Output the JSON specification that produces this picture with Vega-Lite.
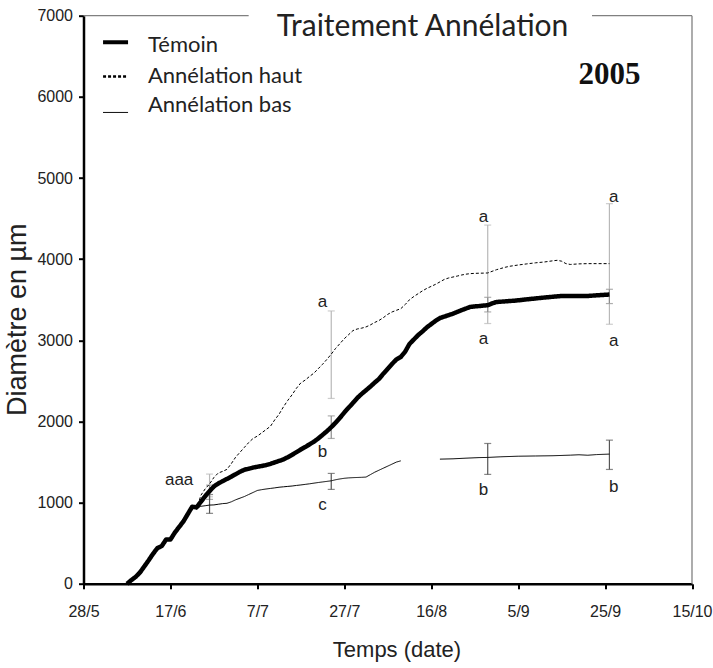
{
  "$schema": "https://vega.github.io/schema/vega-lite/v6.json",
  "width": 608.5,
  "height": 568.1,
  "autosize": {"type": "none"},
  "padding": {"left": 83.5, "top": 15.7, "right": 21, "bottom": 84},
  "background": "white",
  "config": {"view": {"stroke": null}},
  "datasets": {
    "lines": [
      {"serie": "Témoin", "seg": 1, "date": "2005-06-07", "val": 0},
      {"serie": "Témoin", "seg": 1, "date": "2005-06-08", "val": 45},
      {"serie": "Témoin", "seg": 1, "date": "2005-06-09", "val": 85},
      {"serie": "Témoin", "seg": 1, "date": "2005-06-10", "val": 140},
      {"serie": "Témoin", "seg": 1, "date": "2005-06-11", "val": 215},
      {"serie": "Témoin", "seg": 1, "date": "2005-06-12", "val": 290},
      {"serie": "Témoin", "seg": 1, "date": "2005-06-13", "val": 370},
      {"serie": "Témoin", "seg": 1, "date": "2005-06-14", "val": 440},
      {"serie": "Témoin", "seg": 1, "date": "2005-06-15", "val": 465},
      {"serie": "Témoin", "seg": 1, "date": "2005-06-16", "val": 545},
      {"serie": "Témoin", "seg": 1, "date": "2005-06-17", "val": 545},
      {"serie": "Témoin", "seg": 1, "date": "2005-06-18", "val": 630},
      {"serie": "Témoin", "seg": 1, "date": "2005-06-19", "val": 700},
      {"serie": "Témoin", "seg": 1, "date": "2005-06-20", "val": 770},
      {"serie": "Témoin", "seg": 1, "date": "2005-06-21", "val": 860},
      {"serie": "Témoin", "seg": 1, "date": "2005-06-22", "val": 950},
      {"serie": "Témoin", "seg": 1, "date": "2005-06-23", "val": 942},
      {"serie": "Témoin", "seg": 1, "date": "2005-06-24", "val": 1010},
      {"serie": "Témoin", "seg": 1, "date": "2005-06-25", "val": 1080},
      {"serie": "Témoin", "seg": 1, "date": "2005-06-26", "val": 1140},
      {"serie": "Témoin", "seg": 1, "date": "2005-06-27", "val": 1200},
      {"serie": "Témoin", "seg": 1, "date": "2005-06-28", "val": 1235},
      {"serie": "Témoin", "seg": 1, "date": "2005-06-29", "val": 1265},
      {"serie": "Témoin", "seg": 1, "date": "2005-06-30", "val": 1292},
      {"serie": "Témoin", "seg": 1, "date": "2005-07-01", "val": 1320},
      {"serie": "Témoin", "seg": 1, "date": "2005-07-02", "val": 1350},
      {"serie": "Témoin", "seg": 1, "date": "2005-07-03", "val": 1380},
      {"serie": "Témoin", "seg": 1, "date": "2005-07-04", "val": 1405},
      {"serie": "Témoin", "seg": 1, "date": "2005-07-05", "val": 1418},
      {"serie": "Témoin", "seg": 1, "date": "2005-07-06", "val": 1432},
      {"serie": "Témoin", "seg": 1, "date": "2005-07-07", "val": 1442},
      {"serie": "Témoin", "seg": 1, "date": "2005-07-08", "val": 1452},
      {"serie": "Témoin", "seg": 1, "date": "2005-07-09", "val": 1462},
      {"serie": "Témoin", "seg": 1, "date": "2005-07-10", "val": 1478},
      {"serie": "Témoin", "seg": 1, "date": "2005-07-11", "val": 1496},
      {"serie": "Témoin", "seg": 1, "date": "2005-07-12", "val": 1514},
      {"serie": "Témoin", "seg": 1, "date": "2005-07-13", "val": 1532},
      {"serie": "Témoin", "seg": 1, "date": "2005-07-14", "val": 1560},
      {"serie": "Témoin", "seg": 1, "date": "2005-07-15", "val": 1590},
      {"serie": "Témoin", "seg": 1, "date": "2005-07-16", "val": 1622},
      {"serie": "Témoin", "seg": 1, "date": "2005-07-17", "val": 1655},
      {"serie": "Témoin", "seg": 1, "date": "2005-07-18", "val": 1685},
      {"serie": "Témoin", "seg": 1, "date": "2005-07-19", "val": 1718},
      {"serie": "Témoin", "seg": 1, "date": "2005-07-20", "val": 1750},
      {"serie": "Témoin", "seg": 1, "date": "2005-07-21", "val": 1790},
      {"serie": "Témoin", "seg": 1, "date": "2005-07-22", "val": 1835},
      {"serie": "Témoin", "seg": 1, "date": "2005-07-23", "val": 1880},
      {"serie": "Témoin", "seg": 1, "date": "2005-07-24", "val": 1930},
      {"serie": "Témoin", "seg": 1, "date": "2005-07-25", "val": 1985},
      {"serie": "Témoin", "seg": 1, "date": "2005-07-26", "val": 2045},
      {"serie": "Témoin", "seg": 1, "date": "2005-07-27", "val": 2110},
      {"serie": "Témoin", "seg": 1, "date": "2005-07-28", "val": 2170},
      {"serie": "Témoin", "seg": 1, "date": "2005-07-29", "val": 2230},
      {"serie": "Témoin", "seg": 1, "date": "2005-07-30", "val": 2290},
      {"serie": "Témoin", "seg": 1, "date": "2005-07-31", "val": 2340},
      {"serie": "Témoin", "seg": 1, "date": "2005-08-01", "val": 2385},
      {"serie": "Témoin", "seg": 1, "date": "2005-08-02", "val": 2430},
      {"serie": "Témoin", "seg": 1, "date": "2005-08-03", "val": 2480},
      {"serie": "Témoin", "seg": 1, "date": "2005-08-04", "val": 2525},
      {"serie": "Témoin", "seg": 1, "date": "2005-08-05", "val": 2590},
      {"serie": "Témoin", "seg": 1, "date": "2005-08-06", "val": 2650},
      {"serie": "Témoin", "seg": 1, "date": "2005-08-07", "val": 2710},
      {"serie": "Témoin", "seg": 1, "date": "2005-08-08", "val": 2765},
      {"serie": "Témoin", "seg": 1, "date": "2005-08-09", "val": 2795},
      {"serie": "Témoin", "seg": 1, "date": "2005-08-10", "val": 2860},
      {"serie": "Témoin", "seg": 1, "date": "2005-08-11", "val": 2955},
      {"serie": "Témoin", "seg": 1, "date": "2005-08-12", "val": 3010},
      {"serie": "Témoin", "seg": 1, "date": "2005-08-13", "val": 3065},
      {"serie": "Témoin", "seg": 1, "date": "2005-08-14", "val": 3110},
      {"serie": "Témoin", "seg": 1, "date": "2005-08-15", "val": 3160},
      {"serie": "Témoin", "seg": 1, "date": "2005-08-16", "val": 3200},
      {"serie": "Témoin", "seg": 1, "date": "2005-08-17", "val": 3240},
      {"serie": "Témoin", "seg": 1, "date": "2005-08-18", "val": 3275},
      {"serie": "Témoin", "seg": 1, "date": "2005-08-19", "val": 3292},
      {"serie": "Témoin", "seg": 1, "date": "2005-08-20", "val": 3310},
      {"serie": "Témoin", "seg": 1, "date": "2005-08-21", "val": 3328},
      {"serie": "Témoin", "seg": 1, "date": "2005-08-22", "val": 3350},
      {"serie": "Témoin", "seg": 1, "date": "2005-08-23", "val": 3372},
      {"serie": "Témoin", "seg": 1, "date": "2005-08-24", "val": 3392},
      {"serie": "Témoin", "seg": 1, "date": "2005-08-25", "val": 3412},
      {"serie": "Témoin", "seg": 1, "date": "2005-08-26", "val": 3418},
      {"serie": "Témoin", "seg": 1, "date": "2005-08-27", "val": 3422},
      {"serie": "Témoin", "seg": 1, "date": "2005-08-28", "val": 3428},
      {"serie": "Témoin", "seg": 1, "date": "2005-08-29", "val": 3432},
      {"serie": "Témoin", "seg": 1, "date": "2005-08-30", "val": 3455},
      {"serie": "Témoin", "seg": 1, "date": "2005-08-31", "val": 3472},
      {"serie": "Témoin", "seg": 1, "date": "2005-09-01", "val": 3476},
      {"serie": "Témoin", "seg": 1, "date": "2005-09-02", "val": 3480},
      {"serie": "Témoin", "seg": 1, "date": "2005-09-03", "val": 3484},
      {"serie": "Témoin", "seg": 1, "date": "2005-09-04", "val": 3488},
      {"serie": "Témoin", "seg": 1, "date": "2005-09-05", "val": 3493},
      {"serie": "Témoin", "seg": 1, "date": "2005-09-07", "val": 3505},
      {"serie": "Témoin", "seg": 1, "date": "2005-09-09", "val": 3516},
      {"serie": "Témoin", "seg": 1, "date": "2005-09-11", "val": 3527},
      {"serie": "Témoin", "seg": 1, "date": "2005-09-13", "val": 3537},
      {"serie": "Témoin", "seg": 1, "date": "2005-09-15", "val": 3546},
      {"serie": "Témoin", "seg": 1, "date": "2005-09-18", "val": 3546},
      {"serie": "Témoin", "seg": 1, "date": "2005-09-21", "val": 3547},
      {"serie": "Témoin", "seg": 1, "date": "2005-09-23", "val": 3554},
      {"serie": "Témoin", "seg": 1, "date": "2005-09-26", "val": 3564},

      {"serie": "Annélation haut", "seg": 1, "date": "2005-06-22", "val": 949},
      {"serie": "Annélation haut", "seg": 1, "date": "2005-06-23", "val": 915},
      {"serie": "Annélation haut", "seg": 1, "date": "2005-06-24", "val": 1090},
      {"serie": "Annélation haut", "seg": 1, "date": "2005-06-25", "val": 1170},
      {"serie": "Annélation haut", "seg": 1, "date": "2005-06-26", "val": 1230},
      {"serie": "Annélation haut", "seg": 1, "date": "2005-06-27", "val": 1310},
      {"serie": "Annélation haut", "seg": 1, "date": "2005-06-28", "val": 1365},
      {"serie": "Annélation haut", "seg": 1, "date": "2005-06-29", "val": 1385},
      {"serie": "Annélation haut", "seg": 1, "date": "2005-06-30", "val": 1410},
      {"serie": "Annélation haut", "seg": 1, "date": "2005-07-01", "val": 1480},
      {"serie": "Annélation haut", "seg": 1, "date": "2005-07-02", "val": 1560},
      {"serie": "Annélation haut", "seg": 1, "date": "2005-07-03", "val": 1620},
      {"serie": "Annélation haut", "seg": 1, "date": "2005-07-04", "val": 1680},
      {"serie": "Annélation haut", "seg": 1, "date": "2005-07-05", "val": 1740},
      {"serie": "Annélation haut", "seg": 1, "date": "2005-07-06", "val": 1790},
      {"serie": "Annélation haut", "seg": 1, "date": "2005-07-07", "val": 1820},
      {"serie": "Annélation haut", "seg": 1, "date": "2005-07-08", "val": 1860},
      {"serie": "Annélation haut", "seg": 1, "date": "2005-07-09", "val": 1900},
      {"serie": "Annélation haut", "seg": 1, "date": "2005-07-10", "val": 1940},
      {"serie": "Annélation haut", "seg": 1, "date": "2005-07-11", "val": 2020},
      {"serie": "Annélation haut", "seg": 1, "date": "2005-07-12", "val": 2090},
      {"serie": "Annélation haut", "seg": 1, "date": "2005-07-13", "val": 2180},
      {"serie": "Annélation haut", "seg": 1, "date": "2005-07-14", "val": 2260},
      {"serie": "Annélation haut", "seg": 1, "date": "2005-07-15", "val": 2330},
      {"serie": "Annélation haut", "seg": 1, "date": "2005-07-16", "val": 2410},
      {"serie": "Annélation haut", "seg": 1, "date": "2005-07-17", "val": 2475},
      {"serie": "Annélation haut", "seg": 1, "date": "2005-07-18", "val": 2510},
      {"serie": "Annélation haut", "seg": 1, "date": "2005-07-19", "val": 2555},
      {"serie": "Annélation haut", "seg": 1, "date": "2005-07-20", "val": 2595},
      {"serie": "Annélation haut", "seg": 1, "date": "2005-07-21", "val": 2650},
      {"serie": "Annélation haut", "seg": 1, "date": "2005-07-22", "val": 2705},
      {"serie": "Annélation haut", "seg": 1, "date": "2005-07-23", "val": 2765},
      {"serie": "Annélation haut", "seg": 1, "date": "2005-07-24", "val": 2830},
      {"serie": "Annélation haut", "seg": 1, "date": "2005-07-25", "val": 2900},
      {"serie": "Annélation haut", "seg": 1, "date": "2005-07-26", "val": 2960},
      {"serie": "Annélation haut", "seg": 1, "date": "2005-07-27", "val": 3020},
      {"serie": "Annélation haut", "seg": 1, "date": "2005-07-28", "val": 3070},
      {"serie": "Annélation haut", "seg": 1, "date": "2005-07-29", "val": 3120},
      {"serie": "Annélation haut", "seg": 1, "date": "2005-07-30", "val": 3140},
      {"serie": "Annélation haut", "seg": 1, "date": "2005-07-31", "val": 3150},
      {"serie": "Annélation haut", "seg": 1, "date": "2005-08-01", "val": 3165},
      {"serie": "Annélation haut", "seg": 1, "date": "2005-08-02", "val": 3190},
      {"serie": "Annélation haut", "seg": 1, "date": "2005-08-03", "val": 3220},
      {"serie": "Annélation haut", "seg": 1, "date": "2005-08-04", "val": 3245},
      {"serie": "Annélation haut", "seg": 1, "date": "2005-08-05", "val": 3280},
      {"serie": "Annélation haut", "seg": 1, "date": "2005-08-06", "val": 3320},
      {"serie": "Annélation haut", "seg": 1, "date": "2005-08-07", "val": 3350},
      {"serie": "Annélation haut", "seg": 1, "date": "2005-08-08", "val": 3370},
      {"serie": "Annélation haut", "seg": 1, "date": "2005-08-09", "val": 3390},
      {"serie": "Annélation haut", "seg": 1, "date": "2005-08-10", "val": 3440},
      {"serie": "Annélation haut", "seg": 1, "date": "2005-08-11", "val": 3500},
      {"serie": "Annélation haut", "seg": 1, "date": "2005-08-12", "val": 3540},
      {"serie": "Annélation haut", "seg": 1, "date": "2005-08-13", "val": 3575},
      {"serie": "Annélation haut", "seg": 1, "date": "2005-08-14", "val": 3610},
      {"serie": "Annélation haut", "seg": 1, "date": "2005-08-15", "val": 3640},
      {"serie": "Annélation haut", "seg": 1, "date": "2005-08-16", "val": 3665},
      {"serie": "Annélation haut", "seg": 1, "date": "2005-08-17", "val": 3690},
      {"serie": "Annélation haut", "seg": 1, "date": "2005-08-18", "val": 3720},
      {"serie": "Annélation haut", "seg": 1, "date": "2005-08-19", "val": 3750},
      {"serie": "Annélation haut", "seg": 1, "date": "2005-08-20", "val": 3768},
      {"serie": "Annélation haut", "seg": 1, "date": "2005-08-21", "val": 3780},
      {"serie": "Annélation haut", "seg": 1, "date": "2005-08-22", "val": 3792},
      {"serie": "Annélation haut", "seg": 1, "date": "2005-08-23", "val": 3805},
      {"serie": "Annélation haut", "seg": 1, "date": "2005-08-24", "val": 3815},
      {"serie": "Annélation haut", "seg": 1, "date": "2005-08-25", "val": 3822},
      {"serie": "Annélation haut", "seg": 1, "date": "2005-08-26", "val": 3825},
      {"serie": "Annélation haut", "seg": 1, "date": "2005-08-27", "val": 3827},
      {"serie": "Annélation haut", "seg": 1, "date": "2005-08-28", "val": 3828},
      {"serie": "Annélation haut", "seg": 1, "date": "2005-08-29", "val": 3830},
      {"serie": "Annélation haut", "seg": 1, "date": "2005-08-30", "val": 3850},
      {"serie": "Annélation haut", "seg": 1, "date": "2005-08-31", "val": 3870},
      {"serie": "Annélation haut", "seg": 1, "date": "2005-09-01", "val": 3885},
      {"serie": "Annélation haut", "seg": 1, "date": "2005-09-02", "val": 3900},
      {"serie": "Annélation haut", "seg": 1, "date": "2005-09-03", "val": 3912},
      {"serie": "Annélation haut", "seg": 1, "date": "2005-09-05", "val": 3928},
      {"serie": "Annélation haut", "seg": 1, "date": "2005-09-07", "val": 3942},
      {"serie": "Annélation haut", "seg": 1, "date": "2005-09-09", "val": 3955},
      {"serie": "Annélation haut", "seg": 1, "date": "2005-09-11", "val": 3965},
      {"serie": "Annélation haut", "seg": 1, "date": "2005-09-13", "val": 3980},
      {"serie": "Annélation haut", "seg": 1, "date": "2005-09-14", "val": 3986},
      {"serie": "Annélation haut", "seg": 1, "date": "2005-09-15", "val": 3975},
      {"serie": "Annélation haut", "seg": 1, "date": "2005-09-16", "val": 3945},
      {"serie": "Annélation haut", "seg": 1, "date": "2005-09-17", "val": 3935},
      {"serie": "Annélation haut", "seg": 1, "date": "2005-09-19", "val": 3942},
      {"serie": "Annélation haut", "seg": 1, "date": "2005-09-21", "val": 3945},
      {"serie": "Annélation haut", "seg": 1, "date": "2005-09-23", "val": 3945},
      {"serie": "Annélation haut", "seg": 1, "date": "2005-09-26", "val": 3945},

      {"serie": "Annélation bas", "seg": 1, "date": "2005-06-22", "val": 949},
      {"serie": "Annélation bas", "seg": 1, "date": "2005-06-23", "val": 925},
      {"serie": "Annélation bas", "seg": 1, "date": "2005-06-24", "val": 955},
      {"serie": "Annélation bas", "seg": 1, "date": "2005-06-25", "val": 962},
      {"serie": "Annélation bas", "seg": 1, "date": "2005-06-26", "val": 970},
      {"serie": "Annélation bas", "seg": 1, "date": "2005-06-27", "val": 972},
      {"serie": "Annélation bas", "seg": 1, "date": "2005-06-28", "val": 980},
      {"serie": "Annélation bas", "seg": 1, "date": "2005-06-29", "val": 988},
      {"serie": "Annélation bas", "seg": 1, "date": "2005-06-30", "val": 992},
      {"serie": "Annélation bas", "seg": 1, "date": "2005-07-01", "val": 1010},
      {"serie": "Annélation bas", "seg": 1, "date": "2005-07-02", "val": 1035},
      {"serie": "Annélation bas", "seg": 1, "date": "2005-07-03", "val": 1055},
      {"serie": "Annélation bas", "seg": 1, "date": "2005-07-04", "val": 1075},
      {"serie": "Annélation bas", "seg": 1, "date": "2005-07-05", "val": 1100},
      {"serie": "Annélation bas", "seg": 1, "date": "2005-07-06", "val": 1125},
      {"serie": "Annélation bas", "seg": 1, "date": "2005-07-07", "val": 1150},
      {"serie": "Annélation bas", "seg": 1, "date": "2005-07-08", "val": 1160},
      {"serie": "Annélation bas", "seg": 1, "date": "2005-07-09", "val": 1168},
      {"serie": "Annélation bas", "seg": 1, "date": "2005-07-10", "val": 1175},
      {"serie": "Annélation bas", "seg": 1, "date": "2005-07-11", "val": 1182},
      {"serie": "Annélation bas", "seg": 1, "date": "2005-07-12", "val": 1190},
      {"serie": "Annélation bas", "seg": 1, "date": "2005-07-13", "val": 1195},
      {"serie": "Annélation bas", "seg": 1, "date": "2005-07-14", "val": 1200},
      {"serie": "Annélation bas", "seg": 1, "date": "2005-07-15", "val": 1205},
      {"serie": "Annélation bas", "seg": 1, "date": "2005-07-16", "val": 1212},
      {"serie": "Annélation bas", "seg": 1, "date": "2005-07-17", "val": 1218},
      {"serie": "Annélation bas", "seg": 1, "date": "2005-07-18", "val": 1225},
      {"serie": "Annélation bas", "seg": 1, "date": "2005-07-19", "val": 1232},
      {"serie": "Annélation bas", "seg": 1, "date": "2005-07-20", "val": 1240},
      {"serie": "Annélation bas", "seg": 1, "date": "2005-07-21", "val": 1248},
      {"serie": "Annélation bas", "seg": 1, "date": "2005-07-22", "val": 1255},
      {"serie": "Annélation bas", "seg": 1, "date": "2005-07-23", "val": 1262},
      {"serie": "Annélation bas", "seg": 1, "date": "2005-07-24", "val": 1269},
      {"serie": "Annélation bas", "seg": 1, "date": "2005-07-25", "val": 1282},
      {"serie": "Annélation bas", "seg": 1, "date": "2005-07-26", "val": 1292},
      {"serie": "Annélation bas", "seg": 1, "date": "2005-07-27", "val": 1300},
      {"serie": "Annélation bas", "seg": 1, "date": "2005-07-28", "val": 1305},
      {"serie": "Annélation bas", "seg": 1, "date": "2005-07-29", "val": 1308},
      {"serie": "Annélation bas", "seg": 1, "date": "2005-07-30", "val": 1310},
      {"serie": "Annélation bas", "seg": 1, "date": "2005-07-31", "val": 1312},
      {"serie": "Annélation bas", "seg": 1, "date": "2005-08-01", "val": 1315},
      {"serie": "Annélation bas", "seg": 1, "date": "2005-08-02", "val": 1345},
      {"serie": "Annélation bas", "seg": 1, "date": "2005-08-03", "val": 1375},
      {"serie": "Annélation bas", "seg": 1, "date": "2005-08-04", "val": 1400},
      {"serie": "Annélation bas", "seg": 1, "date": "2005-08-05", "val": 1425},
      {"serie": "Annélation bas", "seg": 1, "date": "2005-08-06", "val": 1450},
      {"serie": "Annélation bas", "seg": 1, "date": "2005-08-07", "val": 1475},
      {"serie": "Annélation bas", "seg": 1, "date": "2005-08-08", "val": 1500},
      {"serie": "Annélation bas", "seg": 1, "date": "2005-08-09", "val": 1515},
      {"serie": "Annélation bas", "seg": 2, "date": "2005-08-18", "val": 1536},
      {"serie": "Annélation bas", "seg": 2, "date": "2005-08-21", "val": 1540},
      {"serie": "Annélation bas", "seg": 2, "date": "2005-08-24", "val": 1548},
      {"serie": "Annélation bas", "seg": 2, "date": "2005-08-27", "val": 1555},
      {"serie": "Annélation bas", "seg": 2, "date": "2005-08-29", "val": 1557},
      {"serie": "Annélation bas", "seg": 2, "date": "2005-09-01", "val": 1565},
      {"serie": "Annélation bas", "seg": 2, "date": "2005-09-05", "val": 1572},
      {"serie": "Annélation bas", "seg": 2, "date": "2005-09-09", "val": 1575},
      {"serie": "Annélation bas", "seg": 2, "date": "2005-09-13", "val": 1578},
      {"serie": "Annélation bas", "seg": 2, "date": "2005-09-17", "val": 1585},
      {"serie": "Annélation bas", "seg": 2, "date": "2005-09-19", "val": 1590},
      {"serie": "Annélation bas", "seg": 2, "date": "2005-09-21", "val": 1584},
      {"serie": "Annélation bas", "seg": 2, "date": "2005-09-23", "val": 1592},
      {"serie": "Annélation bas", "seg": 2, "date": "2005-09-26", "val": 1598}
    ],
    "errors": [
      {"serie": "Annélation haut", "date": "2005-06-26", "val": 1072, "val2": 1352},
      {"serie": "Témoin", "date": "2005-06-26", "val": 1040, "val2": 1216},
      {"serie": "Annélation bas", "date": "2005-06-26", "val": 868, "val2": 1100},
      {"serie": "Annélation haut", "date": "2005-07-24", "val": 2284, "val2": 3362},
      {"serie": "Témoin", "date": "2005-07-24", "val": 1791, "val2": 2069},
      {"serie": "Annélation bas", "date": "2005-07-24", "val": 1163, "val2": 1360},
      {"serie": "Annélation haut", "date": "2005-08-29", "val": 3207, "val2": 4420},
      {"serie": "Témoin", "date": "2005-08-29", "val": 3350, "val2": 3530},
      {"serie": "Annélation bas", "date": "2005-08-29", "val": 1348, "val2": 1729},
      {"serie": "Annélation haut", "date": "2005-09-26", "val": 3198, "val2": 4684},
      {"serie": "Témoin", "date": "2005-09-26", "val": 3453, "val2": 3629},
      {"serie": "Annélation bas", "date": "2005-09-26", "val": 1409, "val2": 1770}
    ],
    "letters": [
      {"date": "2005-06-19", "val": 1280, "txt": "aaa"},
      {"date": "2005-07-22", "val": 3473, "txt": "a"},
      {"date": "2005-07-22", "val": 1622, "txt": "b"},
      {"date": "2005-07-22", "val": 970, "txt": "c"},
      {"date": "2005-08-28", "val": 4519, "txt": "a"},
      {"date": "2005-08-28", "val": 3022, "txt": "a"},
      {"date": "2005-08-28", "val": 1155, "txt": "b"},
      {"date": "2005-09-27", "val": 4765, "txt": "a"},
      {"date": "2005-09-27", "val": 2989, "txt": "a"},
      {"date": "2005-09-27", "val": 1188, "txt": "b"}
    ],
    "frame": [
      {"date": "2005-05-28", "date2": "2005-07-05", "val": 7000, "val2": 7000},
      {"date": "2005-09-22", "date2": "2005-10-15", "val": 7000, "val2": 7000},
      {"date": "2005-10-15", "date2": "2005-10-15", "val": 0, "val2": 7000}
    ],
    "keySymbols": [
      {"serie": "Témoin", "date": "2005-06-01T12:00:00Z", "date2": "2005-06-07T06:00:00Z", "val": 6673},
      {"serie": "Annélation haut", "date": "2005-06-01T12:00:00Z", "date2": "2005-06-07T06:00:00Z", "val": 6251},
      {"serie": "Annélation bas", "date": "2005-06-01T12:00:00Z", "date2": "2005-06-07T06:00:00Z", "val": 5808}
    ],
    "keyLabels": [
      {"date": "2005-06-11T20:00:00Z", "val": 6633, "txt": "Témoin"},
      {"date": "2005-06-11T20:00:00Z", "val": 6251, "txt": "Annélation haut"},
      {"date": "2005-06-11T20:00:00Z", "val": 5894, "txt": "Annélation bas"}
    ]
  },
  "encoding": {
    "x": {
      "field": "date",
      "type": "temporal",
      "scale": {"type": "utc", "domain": [{"year": 2005, "month": 5, "date": 28, "utc": true}, {"year": 2005, "month": 10, "date": 15, "utc": true}], "nice": false},
      "axis": {
        "title": "Temps (date)",
        "values": [
          {"year": 2005, "month": 5, "date": 28, "utc": true},
          {"year": 2005, "month": 6, "date": 17, "utc": true},
          {"year": 2005, "month": 7, "date": 7, "utc": true},
          {"year": 2005, "month": 7, "date": 27, "utc": true},
          {"year": 2005, "month": 8, "date": 16, "utc": true},
          {"year": 2005, "month": 9, "date": 5, "utc": true},
          {"year": 2005, "month": 9, "date": 25, "utc": true},
          {"year": 2005, "month": 10, "date": 15, "utc": true}
        ],
        "format": "%-d/%-m",
        "grid": false,
        "labelFlush": false,
        "labelOverlap": false,
        "domainColor": "black",
        "domainWidth": 2.5,
        "tickColor": "black",
        "tickWidth": 2,
        "tickSize": 5,
        "labelFont": "Liberation Sans",
        "labelFontSize": 16,
        "labelColor": "#222222",
        "labelPadding": 15,
        "titleFont": "Liberation Sans",
        "titleFontSize": 22,
        "titleFontWeight": "normal",
        "titleColor": "#222222",
        "titleX": 313,
        "titleY": 66,
        "titleBaseline": "middle"
      }
    },
    "y": {
      "field": "val",
      "type": "quantitative",
      "scale": {"domain": [0, 7000], "nice": false, "zero": true},
      "axis": {
        "title": "Diamètre en µm",
        "values": [0, 1000, 2000, 3000, 4000, 5000, 6000, 7000],
        "format": "d",
        "grid": false,
        "domainColor": "black",
        "domainWidth": 2.5,
        "tickColor": "black",
        "tickWidth": 2,
        "tickSize": 5,
        "labelFont": "Liberation Sans",
        "labelFontSize": 16,
        "labelColor": "#222222",
        "labelPadding": 6,
        "titleFont": "Liberation Sans",
        "titleFontSize": 27,
        "titleFontWeight": "normal",
        "titleColor": "#222222",
        "titleAngle": 270,
        "titleX": -66.5,
        "titleY": 303.5,
        "titleBaseline": "middle"
      }
    }
  },
  "layer": [
    {
      "data": {"name": "frame"},
      "mark": {"type": "rule", "color": "#808080", "strokeWidth": 1.3},
      "encoding": {"x2": {"field": "date2"}, "y2": {"field": "val2"}}
    },
    {
      "data": {"name": "errors"},
      "mark": {"type": "errorbar", "ticks": {"size": 7}, "thickness": 1.2},
      "encoding": {
        "y2": {"field": "val2"},
        "color": {
          "field": "serie",
          "type": "nominal",
          "scale": {"domain": ["Témoin", "Annélation haut", "Annélation bas"], "range": ["#8c8c8c", "#b8b8b8", "#555555"]},
          "legend": null
        }
      }
    },
    {
      "data": {"name": "lines"},
      "mark": {"type": "line", "color": "black", "strokeJoin": "round"},
      "encoding": {
        "detail": {"field": "seg", "type": "nominal"},
        "strokeDash": {
          "field": "serie",
          "type": "nominal",
          "scale": {"domain": ["Témoin", "Annélation haut", "Annélation bas"], "range": [[1, 0], [3, 2], [1, 0]]},
          "legend": null
        },
        "strokeWidth": {
          "field": "serie",
          "type": "nominal",
          "scale": {"type": "ordinal", "domain": ["Témoin", "Annélation haut", "Annélation bas"], "range": [4.5, 1, 1]},
          "legend": null
        }
      }
    },
    {
      "data": {"name": "keySymbols"},
      "mark": {"type": "rule", "color": "black"},
      "encoding": {
        "x2": {"field": "date2"},
        "strokeDash": {"field": "serie", "type": "nominal", "legend": null},
        "strokeWidth": {"field": "serie", "type": "nominal", "legend": null}
      }
    },
    {
      "data": {"name": "keyLabels"},
      "mark": {"type": "text", "font": "Lato", "fontSize": 22, "color": "#222222", "align": "left", "baseline": "middle"},
      "encoding": {"text": {"field": "txt"}}
    },
    {
      "data": {"name": "letters"},
      "mark": {"type": "text", "font": "Liberation Sans", "fontSize": 17, "color": "#222222", "align": "center", "baseline": "middle"},
      "encoding": {"text": {"field": "txt"}}
    },
    {
      "data": {"values": [{"date": "2005-08-14", "val": 6755, "txt": "Traitement Annélation"}]},
      "mark": {"type": "text", "font": "Lato", "fontSize": 30, "color": "#222222", "align": "center", "baseline": "alphabetic"},
      "encoding": {"text": {"field": "txt"}}
    },
    {
      "data": {"values": [{"date": "2005-09-26", "val": 6161, "txt": "2005"}]},
      "mark": {"type": "text", "font": "Liberation Serif", "fontWeight": "bold", "fontSize": 31, "color": "#111111", "align": "center", "baseline": "alphabetic"},
      "encoding": {"text": {"field": "txt"}}
    }
  ]
}
